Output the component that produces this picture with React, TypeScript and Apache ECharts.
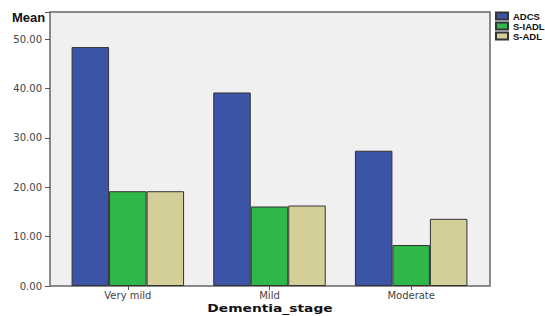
import React, { useEffect, useRef } from "react";
import * as echarts from "echarts";

const categories = ["Very mild", "Mild", "Moderate"];
const seriesNames = ["ADCS", "S-IADL", "S-ADL"];
const adcs = [48.4, 39.2, 27.4];
const siadl = [19.2, 16.1, 8.3];
const sadl = [19.2, 16.3, 13.6];
const colors = ["#3c54a6", "#2fb84a", "#d4cf98"];

export default function App() {
  const ref = useRef<HTMLDivElement>(null);
  useEffect(() => {
    if (!ref.current) return;
    const chart = echarts.init(ref.current, undefined, { renderer: "svg" });
    const values = [adcs, siadl, sadl];
    chart.setOption({
      animation: false,
      backgroundColor: "#ffffff",
      grid: { left: 57, right: 63, top: 12, bottom: 30, outerBoundsMode: "none", containLabel: false },
      legend: {
        orient: "vertical",
        left: 490,
        top: 6,
        itemWidth: 12,
        itemHeight: 7,
        itemGap: 0,
        icon: "rect",
        textStyle: { fontFamily: "Liberation Sans", fontWeight: "bold", fontSize: 9.5, color: "#111", lineHeight: 9 },
        data: seriesNames,
      },
      graphic: [
        {
          type: "rect",
          z: -10,
          shape: { x: 50, y: 12, width: 440, height: 274 },
          style: { fill: "#f0f0f0", stroke: "#666", lineWidth: 1.5 },
        },
        {
          type: "text",
          left: 12,
          top: 11,
          style: { text: "Mean", font: "bold 13px 'Liberation Sans'", fill: "#111" },
        },
        {
          type: "text",
          x: 270,
          y: 314,
          scaleX: 1.38,
          style: {
            text: "Dementia_stage",
            font: "bold 10px 'DejaVu Sans'",
            fill: "#111",
            textAlign: "center",
            textVerticalAlign: "bottom",
          },
        },
      ],
      xAxis: {
        type: "category",
        data: categories,
        axisLine: { show: false },
        axisTick: { show: true, alignWithLabel: true, length: 4, lineStyle: { color: "#555" } },
        axisLabel: { fontFamily: "DejaVu Sans", fontSize: 10, color: "#444", margin: 4 },
      },
      yAxis: {
        type: "value",
        min: 0,
        max: 55.5,
        interval: 10,
        offset: 7,
        axisLine: { show: false },
        axisTick: { show: true, length: 5, lineStyle: { color: "#555" } },
        splitLine: { show: false },
        axisLabel: {
          fontFamily: "DejaVu Sans",
          fontSize: 10,
          color: "#444",
          margin: 8,
          formatter: (v: number) => (v % 10 === 0 ? v.toFixed(2) : ""),
        },
      },
      series: seriesNames.map((name, i) => ({
        name,
        type: "bar",
        data: values[i],
        barGap: "0%",
        barCategoryGap: "20.6%",
        itemStyle: { color: colors[i], borderColor: "#333", borderWidth: 1 },
      })),
    });
    return () => chart.dispose();
  }, []);
  return (
    <div
      ref={ref}
      style={{ position: "absolute", left: 0, top: 0, width: 545, height: 316 }}
    />
  );
}
